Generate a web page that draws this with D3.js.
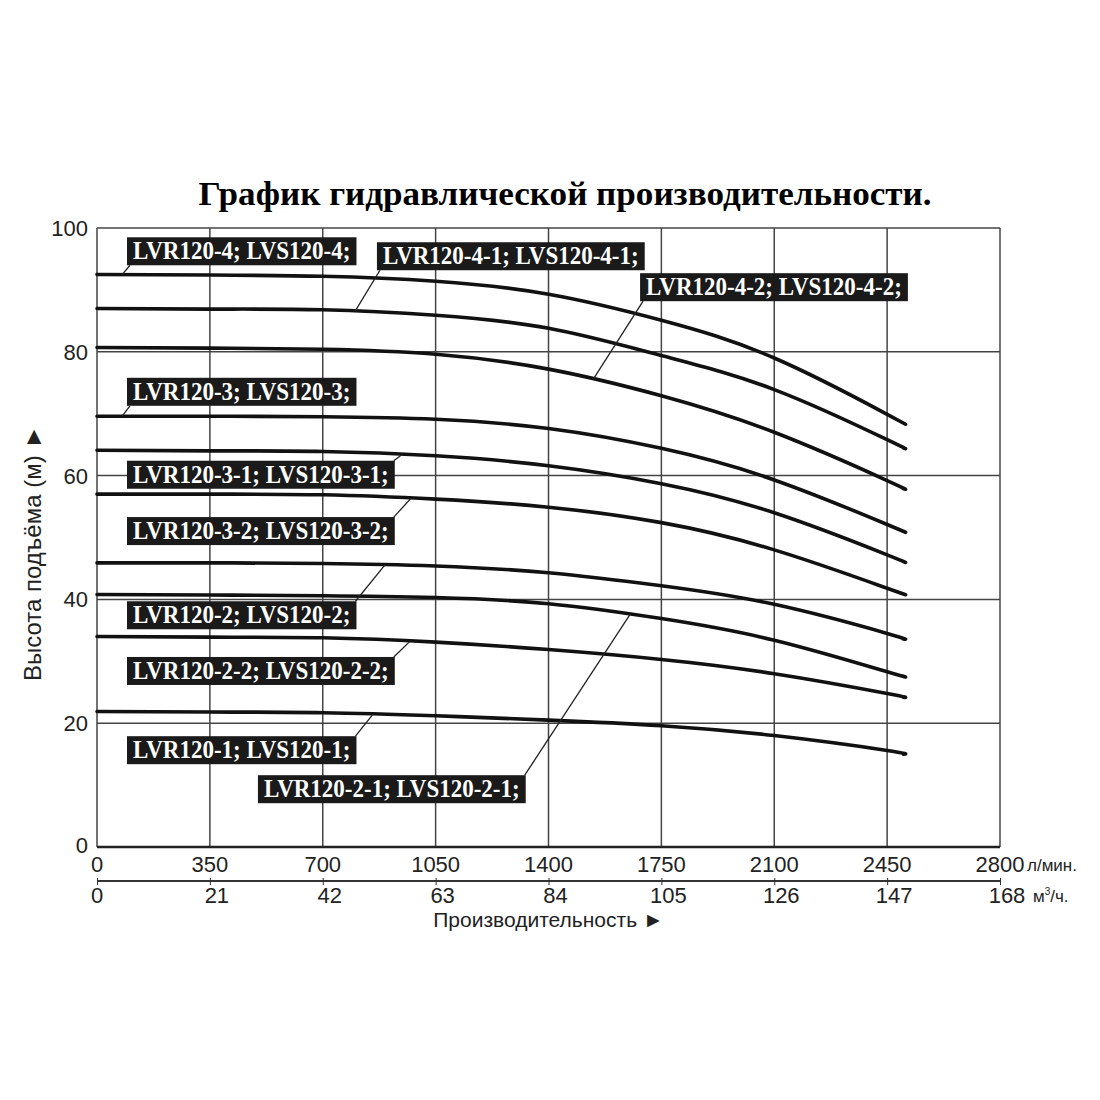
<!DOCTYPE html>
<html>

<head>
    <title>График гидравлической производительности</title>
    <meta charset="UTF-8">
    <script type="text/javascript" src="https://cdn.jsdelivr.net/npm/d3@7"></script>
    <style>
        body { margin: 0; background: #fff; }
    </style>
</head>

<body>
    <div id="chart"></div>
    <script type="text/javascript">

        // flow points (л/мин) and head readings (м) for each pump model
        var flow = [0, 350, 700, 1050, 1400, 1750, 2100, 2450, 2500];
        var head_4   = [92.5, 92.4, 92.2, 91.4, 89.3, 85.1, 79.0, 69.9, 68.5];
        var head_4_1 = [87.0, 86.9, 86.8, 85.9, 83.8, 79.4, 73.9, 65.8, 64.5];
        var head_4_2 = [80.7, 80.6, 80.4, 79.6, 77.2, 72.9, 67.0, 59.2, 57.9];
        var head_3   = [69.6, 69.6, 69.5, 69.1, 67.6, 64.4, 59.3, 52.1, 51.0];
        var head_3_1 = [64.1, 64.0, 63.9, 63.2, 61.6, 58.7, 54.0, 47.2, 46.1];
        var head_3_2 = [57.0, 57.0, 56.9, 56.2, 54.9, 52.4, 48.0, 41.8, 40.9];
        var head_2   = [45.9, 45.9, 45.8, 45.4, 44.3, 42.2, 39.2, 34.5, 33.6];
        var head_2_1 = [40.8, 40.7, 40.6, 40.3, 39.3, 36.9, 33.4, 28.3, 27.6];
        var head_2_2 = [34.0, 33.9, 33.8, 33.1, 31.9, 30.3, 28.0, 24.8, 24.2];
        var head_1   = [21.9, 21.8, 21.7, 21.2, 20.5, 19.6, 18.0, 15.6, 15.0];

        var models = ["LVR120-4; LVS120-4;", "LVR120-4-1; LVS120-4-1;", "LVR120-4-2; LVS120-4-2;",
            "LVR120-3; LVS120-3;", "LVR120-3-1; LVS120-3-1;", "LVR120-3-2; LVS120-3-2;",
            "LVR120-2; LVS120-2;", "LVR120-2-1; LVS120-2-1;", "LVR120-2-2; LVS120-2-2;",
            "LVR120-1; LVS120-1;"];
        var heads = [head_4, head_4_1, head_4_2, head_3, head_3_1, head_3_2, head_2, head_2_1, head_2_2, head_1];

        // tick labels
        var flowTicks = [0, 350, 700, 1050, 1400, 1750, 2100, 2450, 2800];
        var m3Ticks = ["0", "21", "42", "63", "84", "105", "126", "147", "168"];
        var headTicks = [0, 20, 40, 60, 80, 100];

        // label boxes: model index, box corner (flow, head), where the leader touches the curve, which box corner it goes to
        var labelLayout = [
            { m: 0, bx: 93, by: 98.5, lf: 78, c: "bl" },
            { m: 1, bx: 868, by: 97.7, lf: 800, c: "bl" },
            { m: 2, bx: 1684, by: 92.7, lf: 1538, c: "bl" },
            { m: 3, bx: 93, by: 75.8, lf: 78, c: "bl" },
            { m: 4, bx: 93, by: 62.4, lf: 946, c: "tr" },
            { m: 5, bx: 93, by: 53.3, lf: 974, c: "tr" },
            { m: 6, bx: 93, by: 39.7, lf: 893, c: "tr" },
            { m: 8, bx: 93, by: 30.7, lf: 971, c: "tr" },
            { m: 9, bx: 93, by: 17.9, lf: 856, c: "tr" },
            { m: 7, bx: 499, by: 11.6, lf: 1653, c: "tr" }
        ];

        var margin = { top: 228, right: 100, bottom: 253, left: 97 },
            width = 1100 - margin.left - margin.right,
            height = 1100 - margin.top - margin.bottom;

        var root = d3.select("#chart")
            .append("svg")
            .attr("width", 1100)
            .attr("height", 1100);

        var svg = root.append("g")
            .attr("transform", "translate(" + margin.left + "," + margin.top + ")");

        var x = d3.scaleLinear().domain([0, 2800]).range([0, width]);
        var y = d3.scaleLinear().domain([0, 100]).range([height, 0]);

        // title
        root.append("text")
            .attr("x", 565)
            .attr("y", 205)
            .attr("text-anchor", "middle")
            .style("font-family", "'Liberation Serif', 'DejaVu Serif', serif")
            .style("font-weight", "bold")
            .style("font-size", "33px")
            .attr("textLength", 733)
            .attr("lengthAdjust", "spacingAndGlyphs")
            .text("График гидравлической производительности.");

        // grid
        svg.selectAll("vgrid")
            .data(flowTicks)
            .enter()
            .append("line")
            .attr("x1", function (d) { return x(d); })
            .attr("x2", function (d) { return x(d); })
            .attr("y1", 0)
            .attr("y2", height)
            .attr("stroke", "#444")
            .attr("stroke-width", 1.5);

        svg.selectAll("hgrid")
            .data(headTicks)
            .enter()
            .append("line")
            .attr("x1", 0)
            .attr("x2", width)
            .attr("y1", function (d) { return y(d); })
            .attr("y2", function (d) { return y(d); })
            .attr("stroke", "#444")
            .attr("stroke-width", 1.5);

        // bottom line a bit heavier
        svg.append("line")
            .attr("x1", 0).attr("x2", width)
            .attr("y1", height).attr("y2", height)
            .attr("stroke", "#222").attr("stroke-width", 2.5);

        var axisFont = "'Liberation Sans', Arial, sans-serif";

        // y tick labels
        svg.selectAll("ylab")
            .data(headTicks)
            .enter()
            .append("text")
            .attr("x", -9)
            .attr("y", function (d) { return y(d) + (d === 0 ? 6 : 8); })
            .attr("text-anchor", "end")
            .style("font-family", axisFont)
            .style("font-size", "22px")
            .style("fill", "#222")
            .text(function (d) { return d; });

        // y axis title
        root.append("text")
            .attr("transform", "translate(41,553) rotate(-90)")
            .attr("text-anchor", "middle")
            .style("font-family", axisFont)
            .style("font-size", "24px")
            .style("fill", "#222")
            .text("Высота подъёма (м) ►");

        // first x row (л/мин)
        svg.selectAll("xlab")
            .data(flowTicks)
            .enter()
            .append("text")
            .attr("x", function (d) { return x(d); })
            .attr("y", height + 25)
            .attr("text-anchor", "middle")
            .style("font-family", axisFont)
            .style("font-size", "22px")
            .style("fill", "#222")
            .text(function (d) { return d; });

        svg.append("text")
            .attr("x", x(2800) + 27)
            .attr("y", height + 24)
            .style("font-family", axisFont)
            .style("font-size", "17px")
            .style("fill", "#222")
            .text("л/мин.");

        // second axis (м³/ч)
        var x2 = d3.scalePoint().domain(m3Ticks).range([0, width]);
        var ax2 = svg.append("g")
            .attr("transform", "translate(0," + (height + 34) + ")")
            .call(d3.axisBottom(x2).tickSize(4).tickPadding(3).tickFormat(""));
        ax2.select(".domain").attr("stroke", "#333").attr("stroke-width", 2).attr("d", "M0,0H" + width);
        ax2.selectAll(".tick line").attr("stroke", "#333").attr("y1", -3);

        svg.selectAll("x2lab")
            .data(m3Ticks)
            .enter()
            .append("text")
            .attr("x", function (d) { return x2(d) + (d === "0" ? 0 : 7); })
            .attr("y", height + 56)
            .attr("text-anchor", "middle")
            .style("font-family", axisFont)
            .style("font-size", "22px")
            .style("fill", "#222")
            .text(function (d) { return d; });

        svg.append("text")
            .attr("x", x(2800) + 33)
            .attr("y", height + 55)
            .style("font-family", axisFont)
            .style("font-size", "17px")
            .style("fill", "#222")
            .html("м<tspan dy='-7' font-size='10px'>3</tspan><tspan dy='7'>/ч.</tspan>");

        svg.append("text")
            .attr("x", x(1400))
            .attr("y", height + 80)
            .attr("text-anchor", "middle")
            .style("font-family", axisFont)
            .style("font-size", "21px")
            .style("fill", "#222")
            .text("Производительность ►");

        // curves
        var line = d3.line()
            .x(function (d) { return x(d[0]); })
            .y(function (d) { return y(d[1]); })
            .curve(d3.curveNatural);

        svg.selectAll("curves")
            .data(heads)
            .enter()
            .append("path")
            .attr("d", function (h) { return line(flow.map(function (f, i) { return [f, h[i]]; })); })
            .attr("fill", "none")
            .attr("stroke", "#111")
            .attr("stroke-width", 3.6)
            .attr("stroke-linecap", "round");

        // head at a given flow
        function headAt(h, f) {
            for (var i = 1; i < flow.length; i++) {
                if (f <= flow[i]) {
                    var t = (f - flow[i - 1]) / (flow[i] - flow[i - 1]);
                    return h[i - 1] + t * (h[i] - h[i - 1]);
                }
            }
            return h[h.length - 1];
        }

        // label boxes with leaders
        var boxH = 28, pad = 6, squeeze = 0.92;
        labelLayout.forEach(function (L) {
            var g = svg.append("g");
            var bx = x(L.bx), by = y(L.by);
            var t = g.append("text")
                .attr("x", 0)
                .attr("y", 0)
                .style("font-family", "'Liberation Serif', 'DejaVu Serif', serif")
                .style("font-weight", "bold")
                .style("font-size", "25px")
                .style("fill", "#fff")
                .text(models[L.m]);
            var w = t.node().getComputedTextLength() * squeeze;
            t.attr("transform", "translate(" + (bx + pad) + "," + (by + 22) + ") scale(" + squeeze + ",1)");
            var bw = w + 2 * pad;
            g.insert("rect", "text")
                .attr("x", bx)
                .attr("y", by)
                .attr("width", bw)
                .attr("height", boxH)
                .attr("fill", "#1a1a1a");
            var cx = L.c === "bl" ? bx + 3 : bx + bw - 1;
            var cy = L.c === "bl" ? by + boxH : by;
            svg.append("line")
                .attr("x1", x(L.lf))
                .attr("y1", y(headAt(heads[L.m], L.lf)))
                .attr("x2", cx)
                .attr("y2", cy)
                .attr("stroke", "#222")
                .attr("stroke-width", 1.3);
        });

    </script>
</body>

</html>
